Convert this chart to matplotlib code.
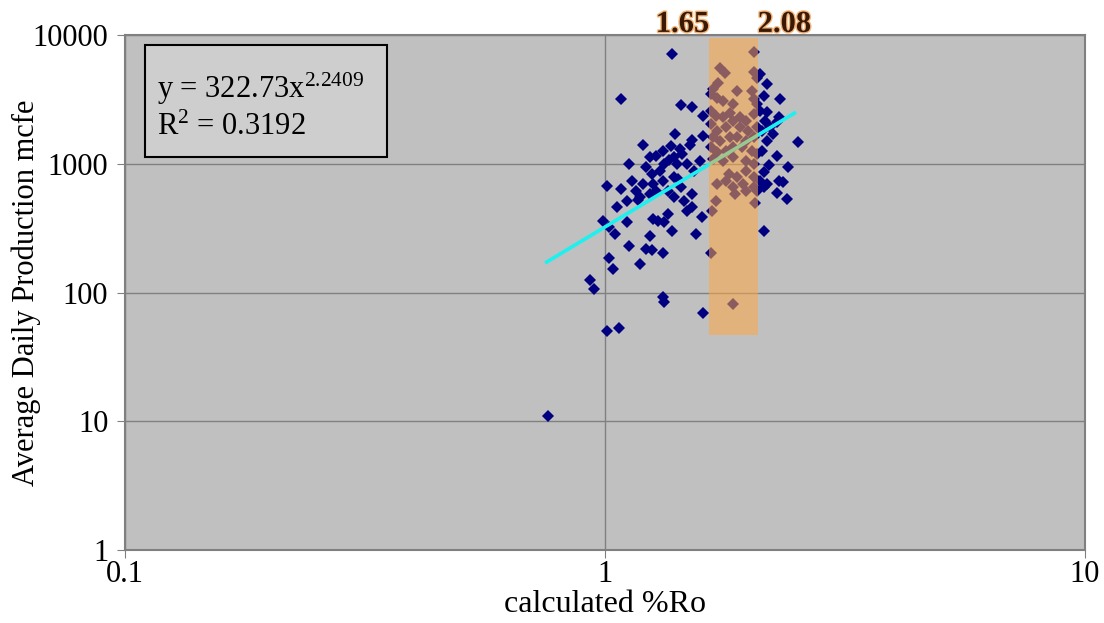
import numpy as np
import matplotlib
matplotlib.use('Agg')
import matplotlib.pyplot as plt
import matplotlib.patheffects as pe
from matplotlib.patches import Rectangle

plt.rcParams['font.family'] = ['Liberation Serif', 'DejaVu Serif']
plt.rcParams['mathtext.default'] = 'regular'

# wells outside the highlighted Ro window
ro_a = [1.38, 1.08, 1.44, 1.52, 1.60, 1.20, 1.40, 1.52, 1.60, 1.37,
        1.32, 1.43, 1.24, 1.28, 1.39, 1.12, 1.22, 1.25, 1.33, 1.41,
        1.48, 1.53, 1.01, 1.08, 1.14, 1.16, 1.20, 1.26, 1.32, 1.39,
        1.44, 1.11, 1.06, 1.18, 1.24, 1.35, 1.39, 1.46, 1.52, 1.52,
        1.48, 0.99, 1.02, 1.05, 1.11, 1.26, 1.29, 1.33, 1.35, 1.59,
        1.38, 1.55, 1.24, 1.12, 1.22, 1.25, 1.32, 1.02, 1.04, 1.18,
        0.93, 0.95, 1.32, 1.33, 1.60, 1.01, 1.07, 2.17, 2.32, 2.18,
        2.30, 2.28, 2.10, 2.14, 2.24, 2.17, 2.52, 2.28, 2.41, 2.14,
        2.17, 2.30, 2.35, 2.28, 2.39, 2.14, 2.10, 2.15, 2.21, 2.10,
        2.14, 0.76, 1.58, 1.30, 1.36, 1.45, 1.28, 1.17, 1.42, 1.50,
        2.12, 2.20, 2.12]
prod_a = [7080, 3210, 2870, 2780, 2330, 1395, 1700, 1535, 1630, 1380,
          1260, 1300, 1120, 1155, 1120, 994, 937, 832, 994, 994,
          994, 883, 675, 636, 738, 618, 695, 695, 738, 784,
          656, 516, 458, 548, 582, 618, 548, 516, 582, 458,
          432, 361, 321, 285, 351, 372, 361, 351, 407, 384,
          303, 285, 277, 231, 218, 212, 202, 186, 152, 165,
          124, 107, 92, 84, 69, 50, 53, 4200, 3210, 2530,
          2290, 2120, 4955, 3365, 1700, 1507, 1463, 1154, 937, 857,
          695, 738, 716, 593, 532, 303, 2575, 2155, 1913, 738,
          656, 11, 1055, 880, 1060, 1180, 610, 520, 760, 1400,
          1250, 980, 1800]

# wells inside the 1.65 - 2.08 window
ro_b = [2.04, 1.74, 1.78, 2.04, 2.07, 1.72, 1.68, 1.66, 1.88, 1.71,
        1.76, 1.85, 2.02, 2.04, 2.07, 1.66, 1.70, 1.76, 1.82, 1.91,
        1.97, 2.04, 1.66, 1.71, 1.79, 1.85, 1.91, 1.99, 2.07, 1.68,
        1.74, 1.82, 1.88, 1.97, 2.04, 1.66, 1.71, 1.79, 1.85, 1.93,
        2.02, 2.07, 1.68, 1.76, 1.85, 1.97, 2.04, 1.81, 1.88, 1.97,
        2.04, 1.71, 1.79, 1.85, 1.94, 2.04, 1.87, 1.97, 2.07, 1.70,
        2.05, 1.67, 1.66, 1.85]
prod_b = [7430, 5580, 5105, 5200, 4670, 4270, 3795, 3470, 3680, 3267,
          3077, 2904, 3680, 3170, 2904, 2575, 2356, 2287, 2500, 2287,
          2155, 2428, 2030, 1803, 1913, 2155, 1913, 1803, 1913, 1600,
          1507, 1600, 1600, 1507, 1600, 1340, 1225, 1262, 1340, 1340,
          1262, 1189, 1087, 1055, 1120, 1055, 994, 832, 784, 883,
          784, 695, 738, 656, 695, 656, 582, 618, 618, 516,
          492, 432, 203, 82]

# power-law fit shown on the chart
fit_a = 322.73
fit_b = 2.2409
fit_r2 = 0.3192
fit_x = [0.75, 2.5]

band_lo, band_hi = 1.65, 2.08
band_ymin, band_ymax = 47, 9500

fig = plt.figure(figsize=(11.04, 6.23), dpi=100)
ax = fig.add_axes([125 / 1104, 73 / 623, 960 / 1104, 515 / 623])
ax.set_facecolor('#C0C0C0')
ax.set_xscale('log')
ax.set_yscale('log')
ax.set_xlim(0.1, 10)
ax.set_ylim(1, 10000)

ax.grid(True, which='major', color='#808080', lw=1)
ax.set_axisbelow(True)
ax.minorticks_off()

ax.plot(ro_a + ro_b, prod_a + prod_b, 'D', color='#000080', ms=6.4, mew=0, zorder=2)

fx = np.array(fit_x)
ax.plot(fx, fit_a * fx ** fit_b, color='#1EF0F0', lw=2.6, zorder=2.5,
        solid_capstyle='butt')

ax.fill_between([band_lo, band_hi], band_ymin, band_ymax, color='#FFA845',
                alpha=0.55, lw=0, zorder=3)

for s in ax.spines.values():
    s.set_color('#808080')
    s.set_linewidth(1.5)

ax.set_xticks([0.1, 1, 10])
ax.set_xticklabels(['0.1', '1', '10'])
ax.set_yticks([1, 10, 100, 1000, 10000])
ax.set_yticklabels(['1', '10', '100', '1000', '10000'])
ax.tick_params(labelsize=22, length=6, color='#808080', pad=6)
ax.tick_params(axis='x', pad=1)

ax.set_xlabel('calculated %Ro', fontsize=23)
ax.set_ylabel('Average Daily Production mcfe', fontsize=22)
ax.xaxis.set_label_coords(0.5, -0.078)
ax.yaxis.set_label_coords(-0.088, 0.5)

# equation box
ax.add_patch(Rectangle((20 / 960, 393 / 515), 242 / 960, 112 / 515,
                       transform=ax.transAxes, fc='#CECECE', ec='black',
                       lw=1.5, zorder=5))
ax.text(32 / 960, 452 / 515, 'y = %.2fx$^{%.4f}$' % (fit_a, fit_b),
        transform=ax.transAxes, fontsize=22, va='baseline', zorder=6)
ax.text(32 / 960, 415 / 515, 'R$^{2}$ = %.4f' % fit_r2,
        transform=ax.transAxes, fontsize=22, va='baseline', zorder=6)

# window labels above the band
trans = ax.get_xaxis_transform()
glow = [pe.withStroke(linewidth=2, foreground='#F5B57A')]
ax.text(band_lo, 1.006, '%.2f' % band_lo, transform=trans, ha='right',
        va='baseline', fontsize=22, fontweight='bold', color='#3A1A05',
        path_effects=glow, clip_on=False)
ax.text(band_hi, 1.006, '%.2f' % band_hi, transform=trans, ha='left',
        va='baseline', fontsize=22, fontweight='bold', color='#3A1A05',
        path_effects=glow, clip_on=False)

fig.savefig('out.png', dpi=100, facecolor='white')
